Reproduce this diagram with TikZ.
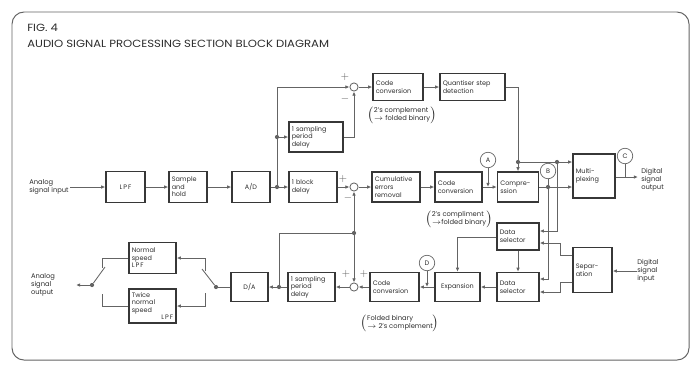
\documentclass[tikz,border=0pt]{standalone}
\usepackage{fontspec}
\setmainfont{Poppins}
\newfontfamily\titlefont[FakeStretch=1.12]{Poppins}
\usetikzlibrary{arrows.meta,positioning,calc}
\definecolor{fgline}{RGB}{100,100,100}
\definecolor{fgbox}{RGB}{55,55,55}
\definecolor{fgtext}{RGB}{45,45,45}

\begin{document}
\begin{tikzpicture}[x=0.025cm,y=-0.025cm,
  blk/.style={draw=fgbox,line width=1pt,align=left,font=\fontsize{4.6}{5.4}\selectfont,
    text=fgtext,inner sep=2pt},
  sig/.style={draw=fgline,line width=0.6pt},
  sigarr/.style={sig,-{Latex[length=3pt,width=2.6pt]}},
  jdot/.style={circle,fill=fgline,inner sep=0pt,minimum size=3pt},
  summer/.style={circle,draw=fgline,line width=0.6pt,inner sep=0pt,minimum size=5.8pt},
  tpoint/.style={circle,draw=fgline,line width=0.5pt,inner sep=0pt,minimum size=11pt,
    font=\fontsize{4.6}{5}\selectfont,text=fgtext},
  lbl/.style={align=left,font=\fontsize{4.8}{5.8}\selectfont,text=fgtext,inner sep=0pt},
  sgn/.style={font=\fontsize{7}{7}\selectfont,text=fgline,inner sep=0pt}
]
  \useasboundingbox (0,0) rectangle (694,364);

  % Frame and heading
  \draw[fgline,line width=0.7pt,rounded corners=0.3cm] (12,12) rectangle (689,360);
  \node[anchor=west,font=\titlefont\fontsize{7.4}{8}\selectfont,text=fgtext,inner sep=0pt] (fig) at (27,28) {FIG. 4};
  \node[anchor=west,font=\titlefont\fontsize{7.4}{8}\selectfont,text=fgtext,inner sep=0pt] (ttl) at (27,44)
    {AUDIO SIGNAL PROCESSING SECTION BLOCK DIAGRAM};

  % Recording path
  \node[lbl] (ain) at (49,187) {Analog\\signal input};
  \coordinate (ainEnd) at (70,187);
  \node[blk,minimum height=0.775cm,text width=0.835cm,align=center] (lpf) at (125.5,187) {L\,P\,F};
  \node[blk,minimum height=0.775cm,text width=0.81cm] (snh) at (188,187) {Sample\\and\\hold};
  \node[blk,minimum height=0.775cm,text width=0.81cm,align=center] (ad) at (251,187) {A/D};
  \node[blk,minimum height=0.775cm,text width=1.06cm] (bd) at (313,187) {1 block\\delay};
  \node[blk,minimum height=0.75cm,text width=1.21cm] (ud) at (316,137) {1 sampling\\period\\delay};
  \node[summer] (sumT) at (354,87) {};
  \node[summer] (sumM) at (354,187) {};
  \node[blk,minimum height=0.675cm,text width=1.11cm] (cct) at (398,87) {Code\\conversion};
  \node[blk,minimum height=0.675cm,text width=1.485cm] (qsd) at (472.5,87) {Quantiser step\\detection};
  \node[blk,minimum height=0.75cm,text width=1.06cm] (cer) at (396,187) {Cumulative\\errors\\removal};
  \node[blk,minimum height=0.75cm,text width=1.035cm] (ccm) at (458.5,187) {Code\\conversion};
  \node[blk,minimum height=0.75cm,text width=0.885cm] (cmp) at (518,187) {Compre-\\ssion};
  \node[blk,minimum height=1.1cm,text width=0.91cm] (mux) at (594,176) {Multi-\\plexing};

  \node[lbl] at (402,115) {$\left(\mbox{\begin{tabular}{@{}l@{}}2's complement\\$\rightarrow$ folded binary\end{tabular}}\right)$};
  \node[lbl] at (459,219) {$\left(\mbox{\begin{tabular}{@{}l@{}}2's compliment\\$\rightarrow$folded binary\end{tabular}}\right)$};

  % Test points
  \node[tpoint] (tpA) at (488,160) {A};
  \node[tpoint] (tpB) at (548,171) {B};
  \node[tpoint] (tpC) at (625,156) {C};
  \node[tpoint] (tpD) at (427,263) {D};

  % Playback path
  \node[lbl,anchor=west] (din) at (637,271) {Digital\\signal\\input};
  \node[blk,minimum height=1.125cm,text width=0.835cm] (sep) at (592.5,270) {Separ-\\ation};
  \node[blk,minimum height=0.675cm,text width=0.91cm] (dsu) at (518,236.5) {Data\\selector};
  \node[blk,minimum height=0.725cm,text width=0.91cm] (dsl) at (518,287) {Data\\selector};
  \node[blk,minimum height=0.725cm,text width=0.985cm,align=center] (exp) at (457.5,287) {Expansion};
  \node[blk,minimum height=0.725cm,text width=1.085cm] (ccl) at (394.5,287) {Code\\conversion};
  \node[summer] (sumL) at (354,287) {};
  \node[blk,minimum height=0.725cm,text width=1.035cm] (ld) at (311.5,287) {1 sampling\\period\\delay};
  \node[blk,minimum height=0.725cm,text width=0.785cm,align=center] (da) at (249.5,287) {D/A};
  \node[blk,minimum height=0.775cm,text width=1.035cm] (nlpf) at (152.5,258) {Normal\\speed\\L\,P\,F};
  \node[blk,minimum height=0.85cm,text width=1.035cm] (tlpf) at (152.5,306) {Twice\\normal\\speed\\\hfill L\,P\,F};
  \node[lbl] (aout) at (43,285) {Analog\\signal\\output};
  \coordinate (aoutTip) at (76,285);

  \node[lbl] at (400,323) {$\left(\mbox{\begin{tabular}{@{}l@{}}Folded binary\\$\rightarrow$ 2's complement\end{tabular}}\right)$};

  \node[lbl,anchor=west] (dout) at (641,180) {Digital\\signal\\output};
  \coordinate (mo) at (638,177);

  % Signs at the summing points
  \node[sgn] at (345,77) {$+$};
  \node[sgn] at (345,99) {$-$};
  \node[sgn] at (343,179) {$+$};
  \node[sgn] at (348,198) {$-$};
  \node[sgn] at (346,274) {$+$};
  \node[sgn] at (364,274) {$+$};

  % Junctions
  \node[jdot] (j1) at (277,187) {};
  \node[jdot] (j2) at (277,137) {};
  \node[jdot] (j3) at (518,162) {};
  \node[jdot] (j4) at (557,162) {};
  \node[jdot] (j5) at (548,187) {};
  \node[jdot] (j6) at (279,287) {};
  \node[jdot] (j7) at (354,233) {};
  \node[jdot] (swR) at (216,287) {};
  \node[jdot] (swL) at (92,285) {};
  \coordinate (a1) at (488,187);
  \coordinate (cRu) at (205,271);
  \coordinate (cRl) at (205,293);
  \coordinate (cLu) at (102,268);
  \coordinate (cLl) at (102,294);

  % Recording connections
  \draw[sigarr] (ainEnd) -- (lpf.west);
  \draw[sigarr] (lpf) -- (snh);
  \draw[sigarr] (snh) -- (ad);
  \draw[sig] (ad) -- (j1);
  \draw[sigarr] (j1) -- (bd);
  \draw[sig] (j1) -- (j2);
  \draw[sigarr] (j2) -- (ud);
  \draw[sigarr] (j2) |- (sumT);
  \draw[sigarr] (ud.east) -| (sumT);
  \draw[sigarr] (sumT) -- (cct);
  \draw[sigarr] (cct) -- (qsd);
  \draw[sig] (qsd.east) -| (j3);
  \draw[sigarr] (j3) -- (cmp);
  \draw[sig] (j3) -- (j4);
  \draw[sigarr] (j4) -- (mux.west |- j4);
  \draw[sigarr] (j4) |- (dsu.east |- 0,231);
  \draw[sigarr] (bd) -- (sumM);
  \draw[sigarr] (sumM) -- (cer);
  \draw[sigarr] (cer) -- (ccm);
  \draw[sigarr] (ccm) -- (cmp);
  \draw[sigarr] (tpA) -- (a1);
  \draw[sig] (cmp) -- (j5);
  \draw[sigarr] (j5) -- (mux.west |- j5);
  \draw[sig] (tpB) -- (j5);
  \draw[sigarr] (j5) |- (dsl.east |- 0,279);
  \draw[sigarr] (mux.east |- mo) -- (mo);
  \draw[sig] (tpC) -- (tpC |- mo);

  % Playback connections
  \draw[sigarr] (din.west) -- (sep.east |- din.west);
  \draw[sigarr] (sep.west |- 0,255) -- ++(-12,0) |- (dsu.east |- 0,243);
  \draw[sigarr] (sep.west |- 0,282) -- ++(-12,0) |- (dsl.east |- 0,292);
  \draw[sigarr] (dsu) -- (dsl);
  \draw[sigarr] (dsu.west |- 0,237) -| (exp.north);
  \draw[sigarr] (dsl) -- (exp);
  \draw[sigarr] (exp) -- (ccl);
  \draw[sigarr] (tpD) -- (tpD |- ccl);
  \draw[sigarr] (ccl) -- (sumL);
  \draw[sigarr] (sumL) -- (ld);
  \draw[sig] (ld) -- (j6);
  \draw[sigarr] (j6) -- (da);
  \draw[sig] (j6) |- (j7);
  \draw[sigarr] (j7) -- (sumM);
  \draw[sigarr] (j7) -- (sumL);

  % Output switches and filters
  \draw[sig] (da) -- (swR);
  \draw[sig] (swR) -- ++(-14,-18);
  \draw[sigarr] (cRu) |- (nlpf.east);
  \draw[sigarr] (cRl) |- (tlpf.east);
  \draw[sig] (nlpf.west) -| (cLu);
  \draw[sig] (tlpf.west) -| (cLl);
  \draw[sig] (swL) -- ++(13,-18);
  \draw[sigarr] (swL) -- (aoutTip);
\end{tikzpicture}
\end{document}
